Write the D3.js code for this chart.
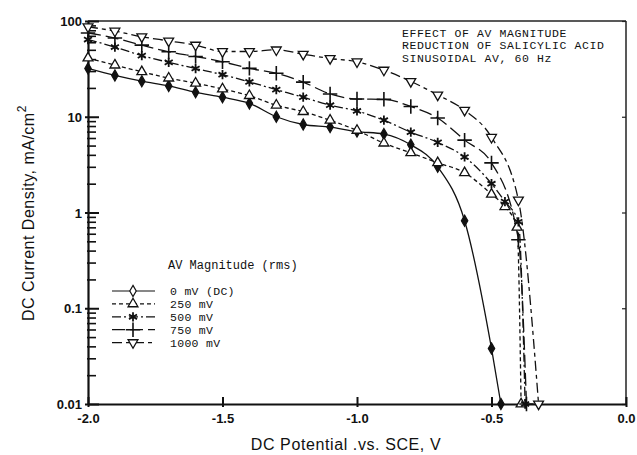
<!DOCTYPE html>
<html>
<head>
<meta charset="utf-8">
<script src="https://cdn.jsdelivr.net/npm/d3@7"></script>
<style>
  body { margin: 0; background: #fff; }
  svg { display: block; }
  .tick text { font-family: "Liberation Sans", Arial, sans-serif; font-weight: bold; font-size: 13px; fill: #111; }
  .mono { font-family: "Liberation Mono", "DejaVu Sans Mono", monospace; fill: #111; }
  .title { font-family: "Liberation Sans", Arial, sans-serif; font-size: 16px; fill: #111; }
</style>
</head>
<body>
<div id="chart"></div>
<script>
// Potentials (V vs SCE) shared by all series down to -0.5 V
var potential = [-2.0, -1.9, -1.8, -1.7, -1.6, -1.5, -1.4, -1.3, -1.2, -1.1, -1.0, -0.9, -0.8, -0.7, -0.6, -0.5];

// DC current density, mA/cm2
var i0    = [32, 27, 23.5, 21, 18, 16, 13.8, 10, 8.3, 7.8, 7.0, 6.6, 5.1, 3.0, 0.82, 0.038];
var i250  = [41, 34.6, 29.5, 25.3, 22.4, 19.5, 16.6, 13.2, 11.3, 9.2, 7.2, 5.3, 4.2, 3.3, 2.6, 1.55];
var i500  = [64, 53.4, 43.5, 37, 31.9, 27.5, 23.1, 19.2, 16, 13.2, 11.5, 9.2, 6.9, 5.4, 3.8, 2.0];
var i750  = [75, 66.4, 56, 47.7, 42.6, 37.5, 32, 28.5, 23, 17.3, 15.3, 15.2, 12.8, 9.7, 5.7, 3.3];
var i1000 = [87, 78.5, 68.5, 62, 56, 48, 48, 50, 45, 40.6, 37.5, 30.7, 23.4, 16.9, 11.7, 6.1];

// steep tails past -0.5 V: [potential, current]
var tail0    = [[-0.465, 0.01]];
var tail250  = [[-0.45, 1.15], [-0.405, 0.7], [-0.39, 0.01]];
var tail500  = [[-0.45, 1.3], [-0.40, 0.8], [-0.375, 0.01]];
var tail750  = [[-0.40, 0.52], [-0.37, 0.01]];
var tail1000 = [[-0.40, 1.35], [-0.325, 0.01]];

var seriesNames = ["0 mV (DC)", "250 mV", "500 mV", "750 mV", "1000 mV"];

// Tick labels
var xTicks = [-2.0, -1.5, -1.0, -0.5, 0.0];
var yTicks = [0.01, 0.1, 1, 10, 100];
var yTickLabels = ["0.01", "0.1", "1", "10", "100"];

var notes = ["EFFECT OF AV MAGNITUDE", "REDUCTION OF SALICYLIC ACID", "SINUSOIDAL AV, 60 Hz"];

var svgWidth = 637;
var svgHeight = 455;
var margin = { top: 21, right: 11, bottom: 51, left: 88 };
var chartWidth = svgWidth - margin.left - margin.right;
var chartHeight = svgHeight - margin.top - margin.bottom;

var svg = d3.select("#chart")
    .append("svg")
    .attr("width", svgWidth)
    .attr("height", svgHeight);

var chartGroup = svg.append("g")
    .attr("transform", `translate(${margin.left}, ${margin.top})`);

var xScale = d3.scaleLinear().domain([-2, 0]).range([0, chartWidth]);
var yScale = d3.scaleLog().domain([0.01, 100]).range([chartHeight, 0]);

// build point lists
function makeSeries(values, tail) {
    var pts = potential.map(function(p, i) { return [p, values[i]]; });
    return pts.concat(tail);
}
var series = [
    { name: seriesNames[0], pts: makeSeries(i0, tail0),       dash: null,          sym: "diamond" },
    { name: seriesNames[1], pts: makeSeries(i250, tail250),   dash: "4,3",         sym: "tri" },
    { name: seriesNames[2], pts: makeSeries(i500, tail500),   dash: "9,3,2,3",     sym: "star" },
    { name: seriesNames[3], pts: makeSeries(i750, tail750),   dash: "13,5",        sym: "plus" },
    { name: seriesNames[4], pts: makeSeries(i1000, tail1000), dash: "10,4,4,4",    sym: "trid" }
];

// frame: top and right
chartGroup.append("line")
    .attr("x1", 0).attr("x2", chartWidth).attr("y1", 0).attr("y2", 0)
    .attr("stroke", "#222").attr("stroke-width", 1.5);
chartGroup.append("line")
    .attr("x1", chartWidth).attr("x2", chartWidth).attr("y1", 0).attr("y2", chartHeight)
    .attr("stroke", "#222").attr("stroke-width", 1.5);

// right axis small inward ticks
chartGroup.append("g")
    .attr("transform", `translate(${chartWidth}, 0)`)
    .call(d3.axisLeft(yScale).tickValues(yTicks).tickSize(4).tickFormat(""))
    .call(g => g.select(".domain").remove())
    .selectAll("line").attr("stroke", "#222").attr("stroke-width", 1.2);

// Y axis: major ticks crossing the axis line
var yAxis = chartGroup.append("g")
    .call(d3.axisLeft(yScale).tickValues(yTicks).tickSize(0).tickPadding(6)
        .tickFormat(function(d, i) { return yTickLabels[i]; }));
yAxis.select(".domain").attr("stroke", "#111").attr("stroke-width", 2.2);
yAxis.selectAll(".tick line").attr("x1", -3).attr("x2", 11).attr("stroke", "#111").attr("stroke-width", 2);
yAxis.selectAll(".tick text").attr("x", -6).attr("dy", "0.35em");

// minor ticks
var minor = [];
[0.01, 0.1, 1, 10].forEach(function(dec) {
    for (var k = 2; k <= 9; k++) minor.push(dec * k);
});
var yMinor = chartGroup.append("g")
    .call(d3.axisLeft(yScale).tickValues(minor).tickSize(0).tickFormat(""));
yMinor.select(".domain").remove();
yMinor.selectAll(".tick line").attr("x1", -1).attr("x2", 8).attr("stroke", "#111").attr("stroke-width", 1.6);

// X axis
var xAxis = chartGroup.append("g")
    .attr("transform", `translate(0, ${chartHeight})`)
    .call(d3.axisBottom(xScale).tickValues(xTicks).tickSize(0).tickPadding(10)
        .tickFormat(d3.format(".1f")));
xAxis.select(".domain").attr("stroke", "#111").attr("stroke-width", 2.2);
xAxis.selectAll(".tick line").attr("y1", -7).attr("y2", 3).attr("stroke", "#111").attr("stroke-width", 2);
xAxis.selectAll(".tick text").text(function(d) { return d3.format(".1f")(d).replace("\u2212", "-"); });

// axis titles
svg.append("text")
    .attr("class", "title")
    .attr("text-anchor", "middle")
    .attr("x", 346).attr("y", 450)
    .style("letter-spacing", "0.6px")
    .text("DC Potential .vs. SCE, V");

var yTitle = svg.append("text")
    .attr("class", "title")
    .attr("transform", "translate(34, 321) rotate(-90)")
    .style("letter-spacing", "0.5px");
yTitle.append("tspan").text("DC Current Density, mA/cm");
yTitle.append("tspan").attr("dy", -8).style("font-size", "12px").text("2");

// clip
svg.append("defs").append("clipPath").attr("id", "plotClip")
    .append("rect").attr("x", 0).attr("y", -2).attr("width", chartWidth).attr("height", chartHeight + 4);

var line = d3.line()
    .x(d => xScale(d[0]))
    .y(d => yScale(d[1]))
    .curve(d3.curveMonotoneX);

var plot = chartGroup.append("g").attr("clip-path", "url(#plotClip)");

series.forEach(function(s) {
    plot.append("path")
        .attr("d", line(s.pts))
        .attr("fill", "none")
        .attr("stroke", "#111")
        .attr("stroke-width", 1.3)
        .attr("stroke-dasharray", s.dash);
});

// markers
function drawMarker(g, sym, cx, cy, legend) {
    var m = g.append("g").attr("transform", `translate(${cx}, ${cy})`);
    if (sym === "diamond") {
        m.append("path").attr("d", d3.symbol(d3.symbolDiamond, 36)())
            .attr("fill", legend ? "#fff" : "#111").attr("stroke", "#111").attr("stroke-width", 1.2);
    } else if (sym === "tri") {
        m.append("path").attr("d", d3.symbol(d3.symbolTriangle, 42)())
            .attr("fill", "#fff").attr("stroke", "#111").attr("stroke-width", 1.3);
    } else if (sym === "trid") {
        m.append("path").attr("d", d3.symbol(d3.symbolTriangle, 42)())
            .attr("transform", "rotate(180)")
            .attr("fill", "#fff").attr("stroke", "#111").attr("stroke-width", 1.3);
    } else if (sym === "star") {
        m.append("path").attr("d", d3.symbol(d3.symbolAsterisk, 60)())
            .attr("fill", "none").attr("stroke", "#111").attr("stroke-width", 1.8);
    } else if (sym === "plus") {
        m.append("path").attr("d", d3.symbol(d3.symbolPlus, 70)())
            .attr("fill", "none").attr("stroke", "#111").attr("stroke-width", 1.6);
    }
}

var markerGroup = chartGroup.append("g");
series.forEach(function(s) {
    s.pts.forEach(function(p) {
        drawMarker(markerGroup, s.sym, xScale(p[0]), yScale(p[1]), false);
    });
});

// annotation
var noteGroup = svg.append("g");
notes.forEach(function(t, i) {
    noteGroup.append("text")
        .attr("class", "mono")
        .attr("x", 402).attr("y", 37 + i * 12.4)
        .style("font-size", "11.5px")
        .style("letter-spacing", "0.6px")
        .text(t);
});

// legend
var legend = svg.append("g");
legend.append("text")
    .attr("class", "mono")
    .attr("x", 168).attr("y", 269)
    .style("font-size", "12px")
    .text("AV Magnitude (rms)");

series.forEach(function(s, i) {
    var ly = 291 + i * 12.9;
    legend.append("line")
        .attr("x1", 112).attr("x2", 155).attr("y1", ly).attr("y2", ly)
        .attr("stroke", "#111").attr("stroke-width", 1.2)
        .attr("stroke-dasharray", s.dash);
    drawMarker(legend, s.sym, 133, ly, true);
    legend.append("text")
        .attr("class", "mono")
        .attr("x", 170).attr("y", ly + 4)
        .style("font-size", "11.5px")
        .style("letter-spacing", "0.3px")
        .attr("xml:space", "preserve")
        .text(s.name);
});
</script>
</body>
</html>
